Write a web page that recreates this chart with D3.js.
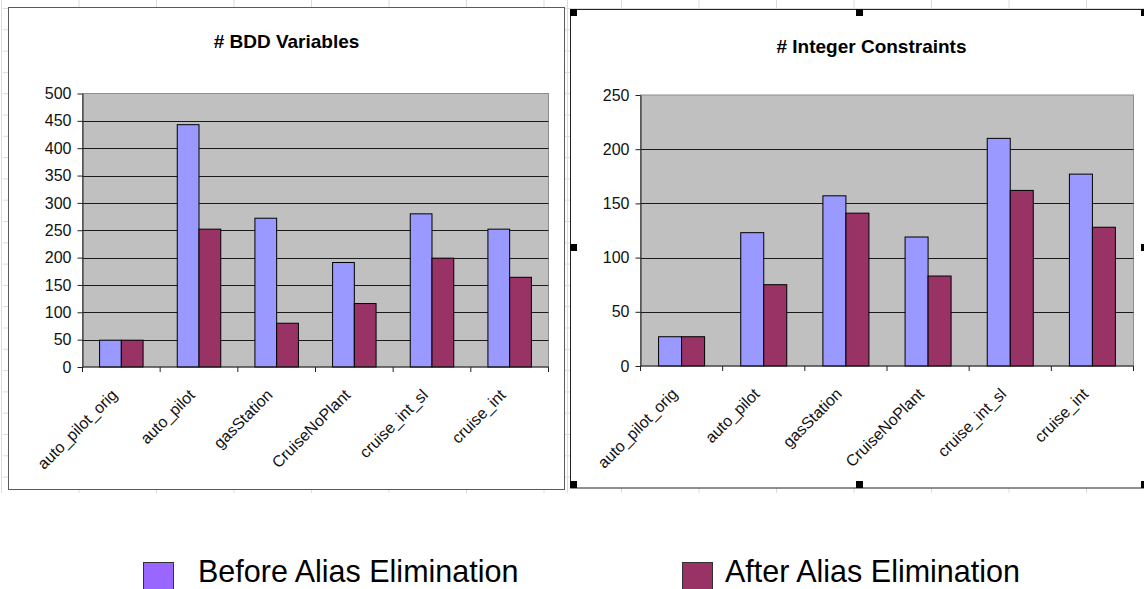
<!DOCTYPE html>
<html>
<head>
<meta charset="utf-8">
<script src="https://cdn.jsdelivr.net/npm/d3@7"></script>
<style>
  html, body { margin: 0; padding: 0; background: #fff; }
  svg { display: block; font-family: "Liberation Sans", Arial, sans-serif; }
</style>
</head>
<body>
<svg id="chart" width="1144" height="589"></svg>
<script>
// Benchmarks shown on the category axis
const categories = ["auto_pilot_orig", "auto_pilot", "gasStation", "CruiseNoPlant", "cruise_int_sl", "cruise_int"];

// Series names
const seriesNames = ["Before Alias Elimination", "After Alias Elimination"];

// # BDD Variables
const bddBefore = [49, 443, 272, 191, 280, 252];
const bddAfter  = [49, 252, 80, 116, 199, 164];

// # Integer Constraints
const intBefore = [27, 123, 157, 119, 210, 177];
const intAfter  = [27, 75, 141, 83, 162, 128];

// Value-axis ticks
const bddTicks = [0, 50, 100, 150, 200, 250, 300, 350, 400, 450, 500];
const intTicks = [0, 50, 100, 150, 200, 250];

const barColors = ["#9999FF", "#993366"];
const legendColors = ["#9966FF", "#993366"];

const svg = d3.select("#chart");

// ---- worksheet cell grid peeking out around the chart objects ----
const sheet = svg.append("g");
sheet.append("clipPath").attr("id", "sheetClip")
  .append("rect").attr("x", 0).attr("y", 0).attr("width", 1144).attr("height", 493);
const sheetLines = sheet.append("g").attr("clip-path", "url(#sheetClip)")
  .attr("stroke", "#dcdcdc").attr("stroke-width", 1);
d3.range(-8, 8).map(k => 621.5 + k * 77.5).filter(x => x > 0 && x < 1144).forEach(x => {
  sheetLines.append("line").attr("x1", x).attr("x2", x).attr("y1", 0).attr("y2", 493);
});
sheetLines.append("line").attr("x1", 567.5).attr("x2", 567.5).attr("y1", 0).attr("y2", 493);
d3.range(0, 24).map(k => 8.5 + k * 21.3).forEach(y => {
  sheetLines.append("line").attr("x1", 3).attr("x2", 1144).attr("y1", y).attr("y2", y);
});

// ---- one clustered column chart inside its own frame ----
function drawChart(cfg) {
  const g = svg.append("g");

  g.append("rect")
    .attr("x", cfg.frame.x).attr("y", cfg.frame.y)
    .attr("width", cfg.frame.w).attr("height", cfg.frame.h)
    .attr("fill", "#fff").attr("stroke", cfg.frame.stroke).attr("stroke-width", 1);

  g.append("text")
    .attr("x", cfg.frame.x + cfg.frame.w / 2).attr("y", cfg.titleY)
    .attr("text-anchor", "middle")
    .attr("font-size", 19).attr("font-weight", "bold").attr("fill", "#000")
    .text(cfg.title);

  const x = d3.scaleBand().domain(categories).range([cfg.plot.left, cfg.plot.right]).padding(0);
  const sub = d3.scaleBand().domain([0, 1])
    .range([x.bandwidth() * 0.22, x.bandwidth() * 0.78]).padding(0);
  const y = d3.scaleLinear().domain([0, cfg.max]).range([cfg.plot.bottom, cfg.plot.top]);

  // plot area
  g.append("rect")
    .attr("x", cfg.plot.left).attr("y", cfg.plot.top)
    .attr("width", cfg.plot.right - cfg.plot.left)
    .attr("height", cfg.plot.bottom - cfg.plot.top)
    .attr("fill", "#C0C0C0").attr("stroke", "#8c8c8c").attr("stroke-width", 1);

  // horizontal gridlines
  g.append("g").selectAll("line")
    .data(cfg.ticks.filter(t => t > 0 && t < cfg.max))
    .join("line")
    .attr("x1", cfg.plot.left).attr("x2", cfg.plot.right)
    .attr("y1", d => Math.round(y(d)) + 0.5).attr("y2", d => Math.round(y(d)) + 0.5)
    .attr("stroke", "#1a1a1a").attr("stroke-width", 1);

  // bars
  const rows = categories.map((c, i) => ({ c, v: [cfg.before[i], cfg.after[i]] }));
  g.append("g").selectAll("g")
    .data(rows)
    .join("g")
    .attr("transform", d => `translate(${x(d.c)},0)`)
    .selectAll("rect")
    .data(d => d.v.map((v, s) => ({ v, s })))
    .join("rect")
    .attr("x", d => sub(d.s))
    .attr("y", d => y(d.v))
    .attr("width", sub.bandwidth())
    .attr("height", d => y(0) - y(d.v))
    .attr("fill", d => barColors[d.s])
    .attr("stroke", "#000").attr("stroke-width", 1);

  // value axis
  const yAxis = g.append("g")
    .attr("transform", `translate(${cfg.plot.left},0)`)
    .call(d3.axisLeft(y).tickValues(cfg.ticks).tickSize(5).tickPadding(6).tickSizeOuter(0));
  yAxis.select(".domain").attr("stroke", "#222");
  yAxis.selectAll(".tick line").attr("stroke", "#222");
  yAxis.selectAll("text").attr("font-size", 16).attr("fill", "#111")
    .attr("font-family", "Liberation Sans, Arial, sans-serif");

  // category axis line with tick marks between categories
  const xg = g.append("g");
  xg.append("line")
    .attr("x1", cfg.plot.left).attr("x2", cfg.plot.right)
    .attr("y1", y(0)).attr("y2", y(0))
    .attr("stroke", "#222").attr("stroke-width", 1);
  const bounds = categories.map(c => x(c)).concat([cfg.plot.right]);
  xg.selectAll("line.b").data(bounds).join("line").attr("class", "b")
    .attr("x1", d => d).attr("x2", d => d)
    .attr("y1", y(0)).attr("y2", y(0) + 5)
    .attr("stroke", "#222").attr("stroke-width", 1);

  // rotated category labels
  const xAxis = g.append("g")
    .attr("transform", `translate(0,${y(0)})`)
    .call(d3.axisBottom(x).tickSize(0).tickSizeOuter(0));
  xAxis.select(".domain").remove();
  xAxis.selectAll("text")
    .attr("x", 0).attr("y", 0).attr("dy", 0)
    .attr("text-anchor", "end")
    .attr("transform", "translate(-3,29) rotate(-45)")
    .attr("font-size", 16).attr("fill", "#111")
    .attr("font-family", "Liberation Sans, Arial, sans-serif");
}

drawChart({
  title: "# BDD Variables",
  frame: { x: 8.5, y: 7.5, w: 556, h: 482, stroke: "#5a5a5a" },
  titleY: 48,
  plot: { left: 82.5, right: 548.5, top: 93.5, bottom: 367 },
  max: 500, ticks: bddTicks,
  before: bddBefore, after: bddAfter
});

drawChart({
  title: "# Integer Constraints",
  frame: { x: 570.5, y: 9.5, w: 602, h: 478.5, stroke: "#222" },
  titleY: 53,
  plot: { left: 640.5, right: 1133.5, top: 95, bottom: 366 },
  max: 250, ticks: intTicks,
  before: intBefore, after: intAfter
});

// selection handles around the right-hand chart
const handles = [
  [570, 9], [856, 9], [1141, 9],
  [570, 244], [1141, 244],
  [570, 481], [856, 481], [1141, 481]
];
svg.append("g").selectAll("rect").data(handles).join("rect")
  .attr("x", d => d[0]).attr("y", d => d[1])
  .attr("width", 7).attr("height", 7).attr("fill", "#000");

// legend
const legendX = [143, 682];
const legend = svg.append("g").selectAll("g").data(seriesNames).join("g")
  .attr("transform", (d, i) => `translate(${legendX[i]},562)`);
legend.append("rect")
  .attr("x", 0.5).attr("y", 0.5).attr("width", 30).attr("height", 30)
  .attr("fill", (d, i) => legendColors[i]).attr("stroke", "#333").attr("stroke-width", 1);
legend.append("text")
  .attr("x", (d, i) => i === 0 ? 55 : 43).attr("y", 20)
  .attr("font-size", 30.5).attr("fill", "#000")
  .text(d => d);
</script>
</body>
</html>
